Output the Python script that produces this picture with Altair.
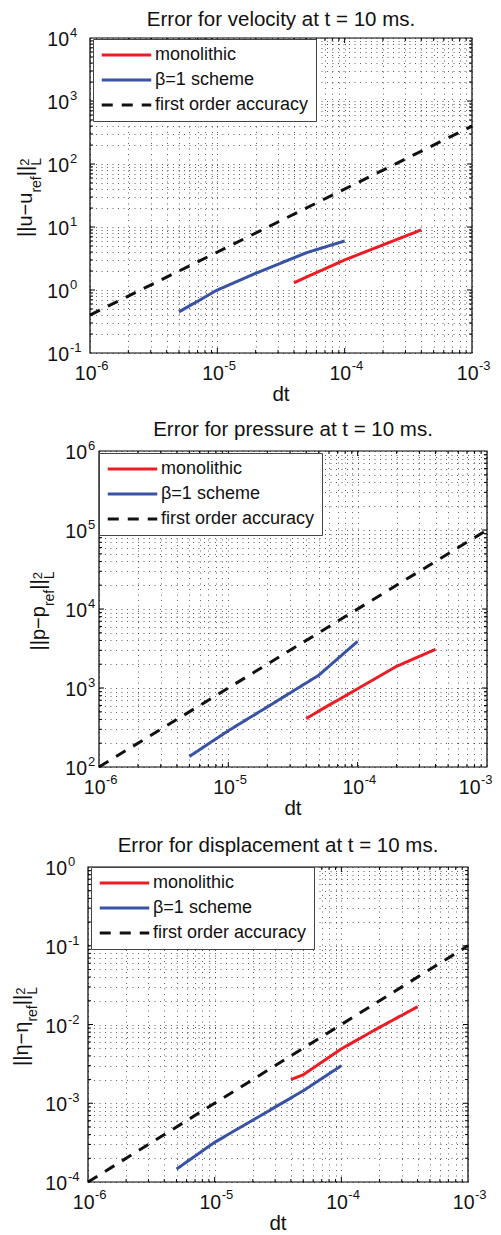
import altair as alt
import pandas as pd

FONT = "Liberation Sans"

# ---------------- data ----------------
dt_mono = [4e-5, 5e-5, 1e-4, 2e-4, 4e-4]
dt_beta = [5e-6, 1e-5, 2e-5, 5e-5, 1e-4]
dt_ref = [1e-6, 1e-3]

vel_mono = [1.3, 1.6, 3.0, 5.2, 9.0]
vel_beta = [0.45, 1.0, 1.84, 3.9, 6.0]
vel_ref = [0.4, 400.0]

pres_mono = [410, 510, 980, 1880, 3090]
pres_beta = [136, 288, 575, 1450, 3900]
pres_ref = [100.0, 1.0e5]

disp_mono = [2.0e-3, 2.3e-3, 4.9e-3, 9.2e-3, 1.68e-2]
disp_beta = [1.46e-4, 3.19e-4, 6.1e-4, 1.44e-3, 3.0e-3]
disp_ref = [1e-4, 1e-1]

series_names = ["monolithic", "β=1 scheme", "first order accuracy"]
series_colors = ["#ed1c24", "#3953a4", "#111111"]
series_dash = [[1, 0], [1, 0], [11, 9]]

x_decades = [1e-6, 1e-5, 1e-4, 1e-3]
x_exps = ["-6", "-5", "-4", "-3"]

vel_decades = [1e-1, 1e0, 1e1, 1e2, 1e3, 1e4]
vel_exps = ["-1", "0", "1", "2", "3", "4"]
pres_decades = [1e2, 1e3, 1e4, 1e5, 1e6]
pres_exps = ["2", "3", "4", "5", "6"]
disp_decades = [1e-4, 1e-3, 1e-2, 1e-1, 1e0]
disp_exps = ["-4", "-3", "-2", "-1", "0"]

titles = ["Error for velocity at t = 10 ms.",
          "Error for pressure at t = 10 ms.",
          "Error for displacement at t = 10 ms."]
symbols = ["u", "p", "η"]

# ---------------- helpers ----------------
GW = {'|': 0.26, 'u': 0.556, '−': 0.584, 'p': 0.556, 'η': 0.556, 'r': 0.333,
      'e': 0.556, 'f': 0.278, 'L': 0.556, '2': 0.556}


def tw(s, size):
    return sum(GW.get(c, 0.556) for c in s) * size


def minor_values(lo_exp, hi_exp):
    vals = []
    for k in range(lo_exp, hi_exp):
        for m in range(1, 10):
            vals.append(m * 10.0 ** k)
    vals.append(10.0 ** hi_exp)
    return vals


def inner_minor(lo_exp, hi_exp):
    return [m * 10.0 ** k for k in range(lo_exp, hi_exp) for m in range(2, 10)]


def inner_major(lo_exp, hi_exp):
    return [10.0 ** k for k in range(lo_exp + 1, hi_exp)]


def line_table(mono, beta, ref):
    rows = []
    for d, v in zip(dt_mono, mono):
        rows.append({"dt": d, "err": v, "series": series_names[0]})
    for d, v in zip(dt_beta, beta):
        rows.append({"dt": d, "err": v, "series": series_names[1]})
    for d, v in zip(dt_ref, ref):
        rows.append({"dt": d, "err": v, "series": series_names[2]})
    return pd.DataFrame(rows)


def panel(idx, r0, r1, H, ydom_exp, ydec, yexp, mono, beta, ref, top, bottom,
          ytick_x, ytitle_x, leg_x, leg_y, title_y, last_shift):
    W = r1
    xs = alt.Scale(type="log", domain=[1e-6, 1e-3], range=[r0, r1])
    ys = alt.Scale(type="log", domain=[10.0 ** ydom_exp[0], 10.0 ** ydom_exp[1]])
    grid_kw = dict(grid=True, labels=False, ticks=False, domain=False, title=None,
                   gridDash=[1, 4.5], gridColor="#111111", gridOpacity=0.75, gridWidth=0.9)
    xax = alt.Axis(values=minor_values(-6, -3), **grid_kw)
    yax = alt.Axis(values=minor_values(ydom_exp[0], ydom_exp[1]), **grid_kw)
    X = alt.X("dt:Q", scale=xs, axis=xax)
    Y = alt.Y("err:Q", scale=ys, axis=yax)

    leg = alt.Legend(orient="none", legendX=leg_x, legendY=leg_y, title=None,
                     fillColor="white", strokeColor="#444444", padding=7,
                     symbolType="stroke", symbolSize=2450, symbolStrokeWidth=3,
                     symbolOffset=0, labelOffset=2, labelFont=FONT, clipHeight=18,
                     labelFontSize=18, labelColor="#111111", rowPadding=7,
                     labelLimit=400)

    lines = alt.Chart(line_table(mono, beta, ref)).mark_line(strokeWidth=3).encode(
        x=X, y=Y,
        color=alt.Color("series:N", scale=alt.Scale(domain=series_names, range=series_colors),
                        legend=leg, sort=series_names),
        strokeDash=alt.StrokeDash("series:N", scale=alt.Scale(domain=series_names, range=series_dash),
                                  legend=leg, sort=series_names),
    )

    # invisible extent marker (sets the vertical room of this panel)
    extent = alt.Chart(pd.DataFrame({"k": [0]})).mark_rule(opacity=0).encode(
        x=alt.value(-70), x2=alt.value(W), y=alt.value(-top), y2=alt.value(bottom))

    # axes box
    box = alt.Chart(pd.DataFrame({"k": [0]})).mark_rect(
        fillOpacity=0, stroke="#000000", strokeWidth=1.2).encode(
        x=alt.value(r0), x2=alt.value(r1), y=alt.value(0), y2=alt.value(H))

    # inward ticks on all four sides
    tick_layers = []
    for vals, ln in ((inner_minor(-6, -3), 3), (inner_major(-6, -3), 5)):
        tdf = pd.DataFrame({"dt": vals})
        for ya, yb in ((H, H - ln), (0, ln)):
            tick_layers.append(alt.Chart(tdf).mark_rule(color="#000000", strokeWidth=1).encode(
                x=X, y=alt.value(ya), y2=alt.value(yb)))
    for vals, ln in ((inner_minor(*ydom_exp), 3), (inner_major(*ydom_exp), 5)):
        tdf = pd.DataFrame({"err": vals})
        for xa, xb in ((r0, r0 + ln), (r1, r1 - ln)):
            tick_layers.append(alt.Chart(tdf).mark_rule(color="#000000", strokeWidth=1).encode(
                y=Y, x=alt.value(xa), x2=alt.value(xb)))

    # x tick labels ("10" + exponent)
    xdf = pd.DataFrame({"dt": x_decades, "ten": ["10"] * len(x_decades), "ex": x_exps})
    xdf_main = xdf[xdf["dt"] < 1e-3]
    xdf_last = xdf[xdf["dt"] >= 1e-3]
    xlab = alt.Chart(xdf_main).mark_text(align="right", baseline="middle", dx=6.5,
                                         fontSize=19.5, font=FONT, color="#111111").encode(
        x=X, y=alt.value(H + 21), text="ten:N")
    xexp = alt.Chart(xdf_main).mark_text(align="left", baseline="middle", dx=7,
                                         fontSize=13, font=FONT, color="#111111").encode(
        x=X, y=alt.value(H + 13), text="ex:N")
    xlab2 = alt.Chart(xdf_last).mark_text(align="right", baseline="middle", dx=6.5 + last_shift,
                                          fontSize=19.5, font=FONT, color="#111111").encode(
        x=X, y=alt.value(H + 21), text="ten:N")
    xexp2 = alt.Chart(xdf_last).mark_text(align="left", baseline="middle", dx=7 + last_shift,
                                          fontSize=13, font=FONT, color="#111111").encode(
        x=X, y=alt.value(H + 13), text="ex:N")

    ydf = pd.DataFrame({"err": ydec, "ten": ["10"] * len(ydec), "ex": yexp})
    ylab = alt.Chart(ydf).mark_text(align="right", baseline="middle", dy=2,
                                    fontSize=19.5, font=FONT, color="#111111").encode(
        y=Y, x=alt.value(ytick_x), text="ten:N")
    yexpm = alt.Chart(ydf).mark_text(align="left", baseline="middle", dy=-5,
                                     fontSize=13, font=FONT, color="#111111").encode(
        y=Y, x=alt.value(ytick_x + 1), text="ex:N")

    cx = (r0 + r1) / 2
    title = alt.Chart(pd.DataFrame({"t": [titles[idx]]})).mark_text(
        align="center", baseline="middle", fontSize=20.5, font=FONT, color="#111111").encode(
        x=alt.value(cx), y=alt.value(title_y), text="t:N")

    dtl = alt.Chart(pd.DataFrame({"t": ["dt"]})).mark_text(
        align="center", baseline="alphabetic", fontSize=20.5, font=FONT, color="#111111").encode(
        x=alt.value(cx), y=alt.value(H + 48), text="t:N")

    # y title in pieces: ||s−s_ref||_L^2
    s = symbols[idx]
    MAIN, SUB = 20, 14
    pieces = [("||" + s + "−" + s, MAIN, 0), ("ref", SUB, 9), ("||", MAIN, 0)]
    total = sum(tw(t, f) for t, f, _ in pieces) + tw("L", SUB)
    y0 = H / 2 + total / 2 + 2
    layers_t = []
    cur = y0
    for t, f, sh in pieces:
        layers_t.append(alt.Chart(pd.DataFrame({"t": [t]})).mark_text(
            align="left", baseline="alphabetic", angle=270, fontSize=f, font=FONT,
            color="#111111").encode(x=alt.value(ytitle_x + sh), y=alt.value(cur), text="t:N"))
        cur -= tw(t, f)
    layers_t.append(alt.Chart(pd.DataFrame({"t": ["L"]})).mark_text(
        align="left", baseline="alphabetic", angle=270, fontSize=SUB, font=FONT,
        color="#111111").encode(x=alt.value(ytitle_x + 9), y=alt.value(cur), text="t:N"))
    layers_t.append(alt.Chart(pd.DataFrame({"t": ["2"]})).mark_text(
        align="left", baseline="alphabetic", angle=270, fontSize=SUB - 1, font=FONT,
        color="#111111").encode(x=alt.value(ytitle_x - 3.5), y=alt.value(cur), text="t:N"))

    return alt.layer(extent, lines, *tick_layers, box, xlab, xexp, xlab2, xexp2, ylab, yexpm,
                     title, dtl, *layers_t).properties(width=W, height=H)


# panels share a left origin at page x = 88; each plot box sits inside its own x range
p1 = panel(0, 2, 384, 315, (-1, 4), vel_decades, vel_exps, vel_mono, vel_beta, vel_ref,
           30, 376, -19, -56, 5, 1, -18.5, 0)
p2 = panel(1, 11, 399, 316, (2, 6), pres_decades, pres_exps, pres_mono, pres_beta, pres_ref,
           35, 373, -1, -43, 11, 2, -21, -13)
p3 = panel(2, 0, 380, 315, (-4, 0), disp_decades, disp_exps, disp_mono, disp_beta, disp_ref,
           41, 368, -21, -60, 3, 0, -21, 0)

chart = alt.vconcat(p1, p2, p3, spacing=0).resolve_scale(
    x="independent", y="independent").resolve_legend(
    color="independent", strokeDash="independent").properties(
    autosize=alt.AutoSizeParams(type="none"),
    padding={"left": 80, "top": 30, "right": 405, "bottom": 1198},
    background="white").configure_view(
    stroke="transparent")

chart.save("out.html", embed_options={"renderer": "svg", "actions": False})
